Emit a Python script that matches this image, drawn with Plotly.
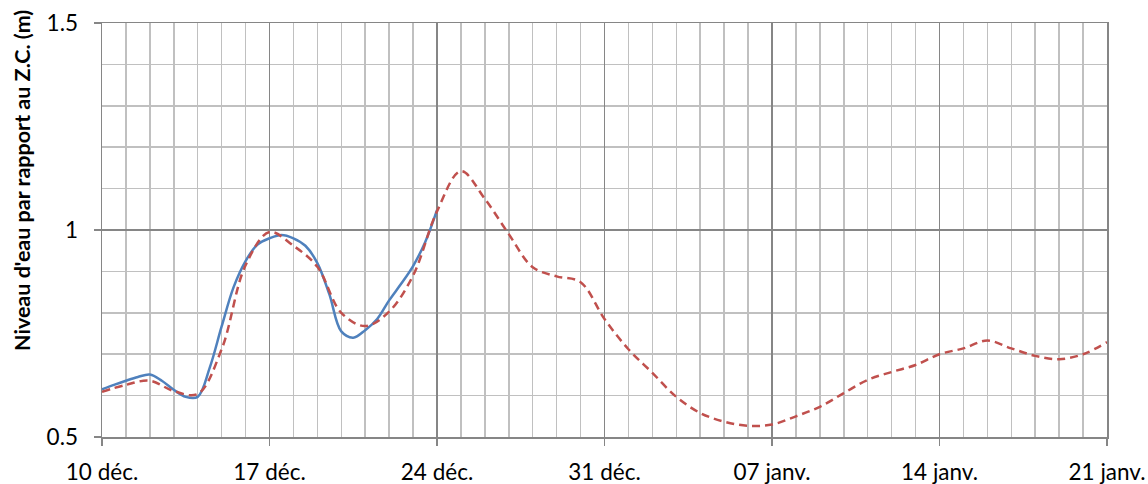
import plotly.graph_objects as go
import pandas as pd

# ---- data ----
# observed water level (12-hour readings)
obs_dates = pd.date_range("2012-12-10", "2012-12-24", freq="12h").strftime("%Y-%m-%d %H:%M").tolist()
observed = [0.615, 0.626, 0.636, 0.645, 0.651, 0.636, 0.614, 0.597, 0.597,
            0.667, 0.767, 0.862, 0.925, 0.965, 0.980, 0.988, 0.980, 0.962,
            0.920, 0.845, 0.755, 0.740, 0.758, 0.785, 0.830, 0.870, 0.913,
            0.970, 1.048]

# predicted water level (daily)
pred_dates = pd.date_range("2012-12-10", "2013-01-21", freq="D").strftime("%Y-%m-%d").tolist()
predicted = [0.609, 0.626, 0.636, 0.611, 0.604, 0.712, 0.915, 0.995, 0.962,
             0.911, 0.800, 0.768, 0.803, 0.890, 1.045, 1.142, 1.075, 0.990,
             0.910, 0.888, 0.874, 0.785, 0.712, 0.655, 0.597, 0.558, 0.537,
             0.527, 0.530, 0.550, 0.573, 0.606, 0.638, 0.657, 0.674, 0.700,
             0.714, 0.733, 0.714, 0.696, 0.688, 0.700, 0.729]

xtick_vals = ["2012-12-10", "2012-12-17", "2012-12-24", "2012-12-31",
              "2013-01-07", "2013-01-14", "2013-01-21"]
xtick_text = ["10 déc.", "17 déc.", "24 déc.", "31 déc.", "07 janv.", "14 janv.", "21 janv."]
ytick_vals = [0.5, 1.0, 1.5]
ytick_text = ["0.5", "1", "1.5"]
ytitle = "Niveau d'eau par rapport au Z.C. (m)"

MAJOR = "#868686"
MINOR = "#C0C0C0"
FONT = "Lato"

W, H = 1148, 484
PL, PR, PT, PB = 102, 1107, 23, 437   # plot area in window pixels

fig = go.Figure()
fig.add_trace(go.Scatter(
    x=obs_dates, y=observed, mode="lines",
    line=dict(color="#4F81BD", width=2.5, shape="spline", smoothing=1.0),
    showlegend=False))
fig.add_trace(go.Scatter(
    x=pred_dates, y=predicted, mode="lines",
    line=dict(color="#C0504D", width=2.5, dash="8px,5px", shape="spline", smoothing=1.0),
    showlegend=False))

fig.update_layout(
    width=W, height=H,
    margin=dict(l=PL, r=W - PR, t=PT, b=H - PB, pad=0),
    paper_bgcolor="white", plot_bgcolor="white",
    font=dict(family=FONT, size=22.5, color="#000000"),
    showlegend=False,
    annotations=[dict(
        text="<b>" + ytitle + "</b>", textangle=-90,
        xref="paper", yref="paper",
        x=(22 - PL) / (PR - PL), y=(PB - 181) / (PB - PT),
        xanchor="center", yanchor="middle", showarrow=False,
        font=dict(family=FONT, size=21.5, color="#000000"))],
)

fig.update_xaxes(
    type="date",
    range=["2012-12-10", "2013-01-21"],
    tickvals=xtick_vals, ticktext=xtick_text,
    ticks="outside", ticklen=7, tickwidth=1.5, tickcolor=MAJOR,
    ticklabelstandoff=7, ticklabeloverflow="allow", automargin=False,
    showgrid=True, gridcolor=MAJOR, gridwidth=1.5,
    showline=True, linecolor=MAJOR, linewidth=1.5, mirror=True,
    minor=dict(dtick=86400000, tick0="2012-12-10", showgrid=True,
               gridcolor=MINOR, gridwidth=1.5, ticks=""),
    zeroline=False,
)
fig.update_yaxes(
    range=[0.5, 1.5],
    tickvals=ytick_vals, ticktext=ytick_text,
    ticks="outside", ticklen=7, tickwidth=1.5, tickcolor=MAJOR,
    ticklabelstandoff=11, ticklabeloverflow="allow", automargin=False,
    showgrid=True, gridcolor=MAJOR, gridwidth=1.5,
    showline=True, linecolor=MAJOR, linewidth=1.5, mirror=True,
    minor=dict(dtick=0.1, tick0=0.5, showgrid=True,
               gridcolor=MINOR, gridwidth=1.5, ticks=""),
    zeroline=False,
)

# remove the default page margin so the 1148x484 figure fills the window exactly
fig.write_html("out.html",
               config={"displayModeBar": False, "staticPlot": True},
               post_script="document.body.style.margin='0';document.body.style.overflow='hidden';")
